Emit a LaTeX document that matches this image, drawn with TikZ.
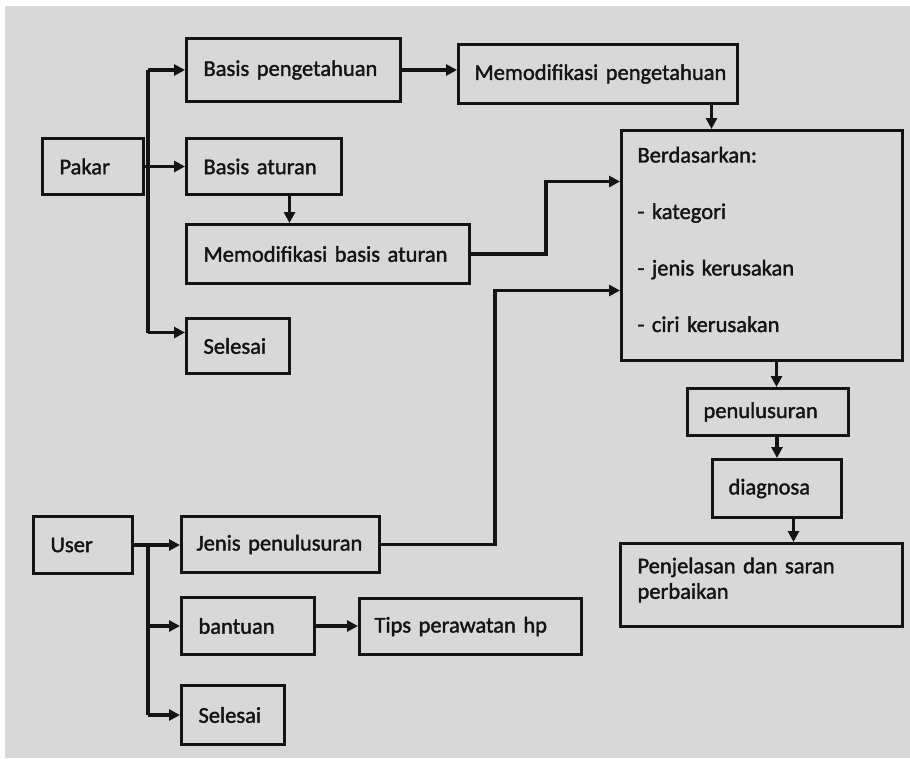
\documentclass[tikz,border=0pt]{standalone}
\usepackage{fontspec}
\setmainfont{Carlito}[FakeBold=1.6]
\usetikzlibrary{arrows.meta,calc}
\definecolor{bggray}{RGB}{216,216,216}
\definecolor{ink}{RGB}{20,20,20}
\tikzset{
  box/.style={draw=ink, line width=3pt, anchor=north west, inner xsep=17pt, inner ysep=2pt,
    align=left, text=ink, font=\fontsize{22.5}{27}\selectfont},
  conn/.style={draw=ink, line width=3.3pt},
  arr/.style={conn, -{Triangle[length=11pt,width=11pt]}},
}
\begin{document}
\begin{tikzpicture}[x=1pt,y=-1pt]
\useasboundingbox (0,0) rectangle (910,758);
\fill[white] (0,0) rectangle (910,758);
\fill[bggray] (5,6) rectangle (910,758);

% Pakar part
\node[box, text width=67pt, minimum height=56pt] (pakar) at (41,137) {\mbox{Pakar}};
\node[box, text width=180pt, minimum height=63pt] (bp) at (185,37) {\mbox{Basis pengetahuan}};
\node[box, text width=247pt, minimum height=59pt, inner xsep=16pt] (mp) at (457,43) {\mbox{Memodifikasi pengetahuan}};
\node[box, text width=121pt, minimum height=56pt] (ba) at (185,137) {\mbox{Basis aturan}};
\node[box, text width=249pt, minimum height=59pt] (mba) at (185,223) {\mbox{Memodifikasi basis aturan}};
\node[box, text width=69pt, minimum height=55pt] (sel1) at (185,317) {\mbox{Selesai}};

% right column
\node[box, text width=249pt, minimum height=230pt, inner xsep=16pt,
  font=\fontsize{22.5}{56.5}\selectfont] (berd) at (620,129)
  {Berdasarkan:\\- kategori\\- jenis kerusakan\\- ciri kerusakan\par\vspace{12pt}};
\node[box, text width=129pt, minimum height=47pt, inner xsep=16pt] (pen) at (686,387) {\mbox{penulusuran}};
\node[box, text width=97pt, minimum height=58pt, inner xsep=16pt] (diag) at (711,458) {\mbox{diagnosa}};
\node[box, text width=248pt, minimum height=83pt, font=\fontsize{22.5}{25.5}\selectfont] (penj) at (619,542)
  {Penjelasan dan saran\\perbaikan\par\vspace{10pt}};

% User part
\node[box, text width=65pt, minimum height=57pt] (user) at (32,515) {\mbox{User}};
\node[box, text width=168pt, minimum height=56pt, inner xsep=15pt] (jp) at (180,515) {\mbox{Jenis penulusuran}};
\node[box, text width=99pt, minimum height=57pt] (bt) at (180,596) {\mbox{bantuan}};
\node[box, text width=192pt, minimum height=56pt, inner xsep=15pt] (tips) at (358,597) {\mbox{Tips perawatan hp}};
\node[box, text width=69pt, minimum height=59pt] (sel2) at (180,684) {\mbox{Selesai}};

% junction points
\coordinate (t1) at (148,0);
\coordinate (s1a) at ([yshift=13.5pt]sel1.west);

% Pakar connectors
\draw[conn] (pakar.east) -- (pakar.east -| t1);
\draw[conn] (bp.west -| t1) -- (s1a -| t1);
\draw[arr] (bp.west -| t1) -- (bp.west);
\draw[arr] (ba.west -| t1) -- (ba.west);
\draw[arr] (s1a -| t1) -- (s1a);
\draw[arr] (bp.east) -- (bp.east -| mp.west);
\draw[arr] ([xshift=25.5pt]ba.south) -- ([xshift=25.5pt]ba.south |- mba.north);
\draw[arr] (mba.east) -- ++(75,0) |- ([yshift=64pt]berd.west);
\draw[arr] ([xshift=113.5pt]mp.south) -- ([xshift=113.5pt]mp.south |- berd.north);

% right column connectors
\draw[arr] ([xshift=8.5pt]pen.north |- berd.south) -- ([xshift=8.5pt]pen.north);
\draw[arr] (diag.north |- pen.south) -- (diag.north);
\draw[arr] ([xshift=16.5pt]diag.south) -- ([xshift=16.5pt]diag.south |- penj.north);

% User connectors
\draw[arr] (user.east) -- (user.east -| jp.west);
\draw[conn] (user.east -| t1) -- (sel2.west -| t1);
\draw[arr] (bt.west -| t1) -- (bt.west);
\draw[arr] (sel2.west -| t1) -- (sel2.west);
\draw[arr] (bt.east) -- (bt.east -| tips.west);
\draw[arr] (jp.east) -- ++(114,0) |- ([yshift=-45pt]berd.west);
\end{tikzpicture}
\end{document}
